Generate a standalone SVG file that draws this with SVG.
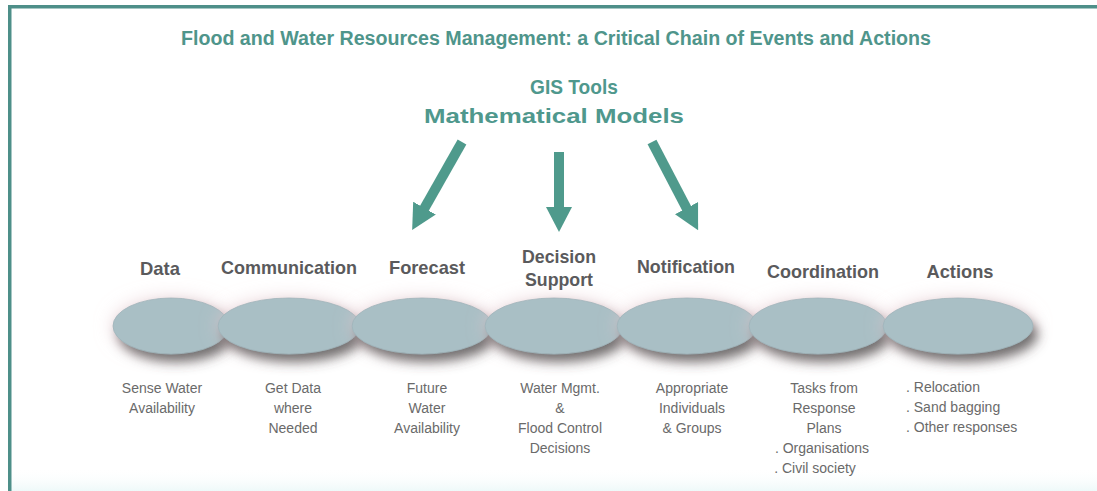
<svg xmlns="http://www.w3.org/2000/svg" width="1097" height="491" viewBox="0 0 1097 491">
  <defs>
    <style>
      .title { font-family: "Liberation Sans", Arial, sans-serif; font-weight: bold; font-size: 20px; fill: #4f958b; }
      .tool { font-family: "Liberation Sans", Arial, sans-serif; font-weight: bold; font-size: 21px; fill: #4f988d; }
      .label { font-family: "Liberation Sans", Arial, sans-serif; font-weight: bold; font-size: 19px; fill: #5a5a5c; text-anchor: middle; }
      .desc { font-family: "Liberation Sans", Arial, sans-serif; font-size: 14px; fill: #6a6a6a; text-anchor: middle; }
      .descl { font-family: "Liberation Sans", Arial, sans-serif; font-size: 14px; fill: #6a6a6a; }
      .pill { fill: #a9bfc5; stroke: #9fb4ba; stroke-width: 0.8; filter: url(#shadow); }
      .arrow { stroke: #4f9a8c; stroke-width: 10; fill: none; marker-end: url(#head); }
    </style>
    <marker id="head" markerUnits="userSpaceOnUse" markerWidth="25" markerHeight="26" viewBox="0 0 25 26" refX="1" refY="13" orient="auto">
      <path d="M0,0 L25,13 L0,26 Z" fill="#4f9a8c"/>
    </marker>
    <filter id="shadow" x="-30%" y="-60%" width="160%" height="240%">
      <feGaussianBlur in="SourceAlpha" stdDeviation="9" result="halo"/>
      <feFlood flood-color="#e6c9cf" flood-opacity="0.7"/>
      <feComposite in2="halo" operator="in" result="pink"/>
      <feOffset in="SourceAlpha" dx="5" dy="8" result="off"/>
      <feGaussianBlur in="off" stdDeviation="6" result="offb"/>
      <feFlood flood-color="#3f4644" flood-opacity="0.8"/>
      <feComposite in2="offb" operator="in" result="dark"/>
      <feMerge>
        <feMergeNode in="pink"/>
        <feMergeNode in="dark"/>
        <feMergeNode in="SourceGraphic"/>
      </feMerge>
    </filter>
    <linearGradient id="bottomTint" x1="0" y1="0" x2="0" y2="1">
      <stop offset="0" stop-color="#ffffff" stop-opacity="0"/>
      <stop offset="1" stop-color="#eef9f9" stop-opacity="1"/>
    </linearGradient>
  </defs>

  <rect x="0" y="0" width="1097" height="491" fill="#ffffff"/>
  <rect x="10" y="468" width="1087" height="23" fill="url(#bottomTint)"/>

  <!-- frame -->
  <g id="frame">
    <rect x="8" y="5" width="1089" height="3.5" fill="#4e8f89"/>
    <rect x="8" y="5" width="3.5" height="486" fill="#4e8f89"/>
  </g>

  <g id="title">
    <text class="title" x="556" y="45" text-anchor="middle" textLength="750" lengthAdjust="spacingAndGlyphs">Flood and Water Resources Management: a Critical Chain of Events and Actions</text>
  </g>

  <g id="tools">
    <text class="tool" x="574" y="94" text-anchor="middle" textLength="88" lengthAdjust="spacingAndGlyphs">GIS Tools</text>
    <text class="tool" x="554" y="123" text-anchor="middle" textLength="260" lengthAdjust="spacingAndGlyphs">Mathematical Models</text>
  </g>

  <g id="connectors">
    <line class="arrow" x1="462" y1="142" x2="424" y2="209"/>
    <line class="arrow" x1="559" y1="152" x2="559" y2="208"/>
    <line class="arrow" x1="652" y1="142" x2="687" y2="209"/>
  </g>

  <g id="node-data">
    <ellipse class="pill" cx="171" cy="326" rx="58" ry="28"/>
    <text class="label" x="160" y="275" textLength="40" lengthAdjust="spacingAndGlyphs">Data</text>
    <text class="desc" x="162" y="393">Sense Water</text>
    <text class="desc" x="162" y="413">Availability</text>
  </g>

  <g id="node-communication">
    <ellipse class="pill" cx="289" cy="326" rx="71" ry="28"/>
    <text class="label" x="289" y="274" textLength="136" lengthAdjust="spacingAndGlyphs">Communication</text>
    <text class="desc" x="293" y="393">Get Data</text>
    <text class="desc" x="293" y="413">where</text>
    <text class="desc" x="293" y="433">Needed</text>
  </g>

  <g id="node-forecast">
    <ellipse class="pill" cx="422" cy="326" rx="70" ry="28"/>
    <text class="label" x="427" y="274" textLength="76" lengthAdjust="spacingAndGlyphs">Forecast</text>
    <text class="desc" x="427" y="393">Future</text>
    <text class="desc" x="427" y="413">Water</text>
    <text class="desc" x="427" y="433">Availability</text>
  </g>

  <g id="node-decision">
    <ellipse class="pill" cx="554" cy="326" rx="69" ry="28"/>
    <text class="label" x="559" y="263" textLength="74" lengthAdjust="spacingAndGlyphs">Decision</text>
    <text class="label" x="559" y="286" textLength="68" lengthAdjust="spacingAndGlyphs">Support</text>
    <text class="desc" x="560" y="393">Water Mgmt.</text>
    <text class="desc" x="560" y="413">&amp;</text>
    <text class="desc" x="560" y="433">Flood Control</text>
    <text class="desc" x="560" y="453">Decisions</text>
  </g>

  <g id="node-notification">
    <ellipse class="pill" cx="687" cy="326" rx="70" ry="28"/>
    <text class="label" x="686" y="273" textLength="98" lengthAdjust="spacingAndGlyphs">Notification</text>
    <text class="desc" x="692" y="393">Appropriate</text>
    <text class="desc" x="692" y="413">Individuals</text>
    <text class="desc" x="692" y="433">&amp; Groups</text>
  </g>

  <g id="node-coordination">
    <ellipse class="pill" cx="818" cy="326" rx="69" ry="28"/>
    <text class="label" x="823" y="278" textLength="112" lengthAdjust="spacingAndGlyphs">Coordination</text>
    <text class="desc" x="824" y="393">Tasks from</text>
    <text class="desc" x="824" y="413">Response</text>
    <text class="desc" x="824" y="433">Plans</text>
    <text class="desc" x="822" y="453">. Organisations</text>
    <text class="desc" x="815" y="473">. Civil society</text>
  </g>

  <g id="node-actions">
    <ellipse class="pill" cx="958" cy="326" rx="75" ry="28"/>
    <text class="label" x="960" y="278" textLength="67" lengthAdjust="spacingAndGlyphs">Actions</text>
    <text class="descl" x="906" y="392">. Relocation</text>
    <text class="descl" x="906" y="412">. Sand bagging</text>
    <text class="descl" x="906" y="432">. Other responses</text>
  </g>
</svg>
